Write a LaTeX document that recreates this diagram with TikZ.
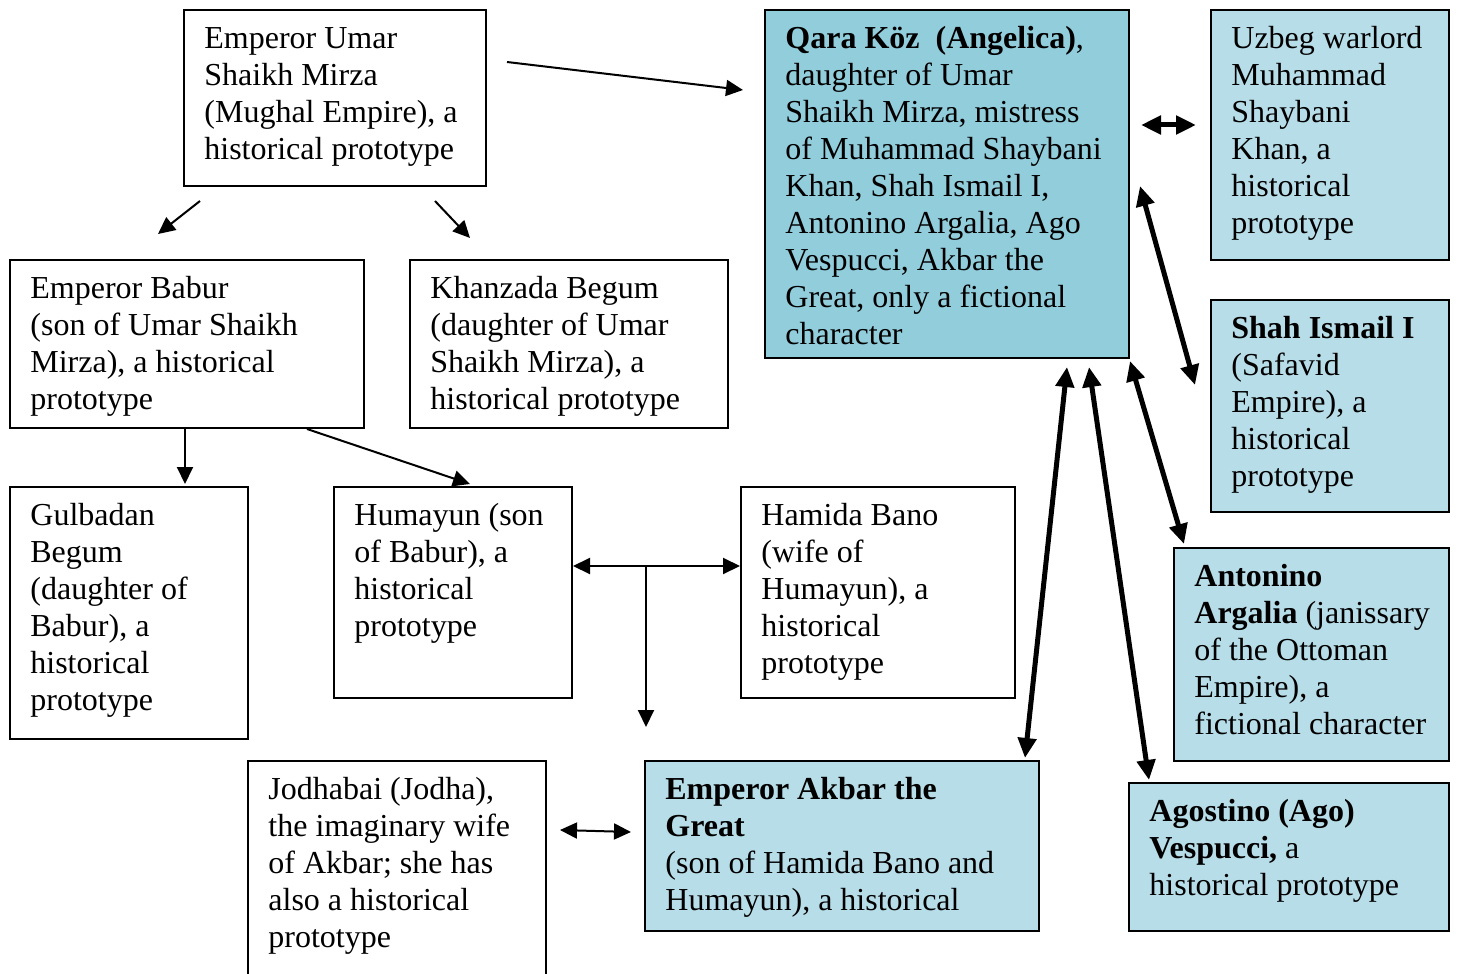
\documentclass[tikz,border=0pt]{standalone}
\usepackage{fontspec}
\setmainfont{Liberation Serif}
\usetikzlibrary{arrows.meta}
\definecolor{qblue}{HTML}{92CDDC}
\definecolor{lblue}{HTML}{B7DDE8}
\tikzset{
  frame/.style={draw=black, line width=1pt, anchor=north west, inner sep=0pt},
  plainbox/.style={frame, fill=white},
  bluebox/.style={frame, fill=lblue},
  darkbox/.style={frame, fill=qblue},
  label/.style={anchor=north west, align=left, inner xsep=10.5pt, inner ysep=6.5pt,
    font=\fontsize{16}{18.5}\selectfont},
  thin/.style={line width=1pt, -{Triangle[length=8.5pt,width=8pt]}},
  thinboth/.style={line width=1pt, {Triangle[length=8.5pt,width=8pt]}-{Triangle[length=8.5pt,width=8pt]}},
  thick/.style={line width=2.5pt, {Triangle[length=10pt,width=9pt]}-{Triangle[length=10pt,width=9pt]}},
}
\begin{document}
\begin{tikzpicture}[x=0.5pt,y=-0.5pt]
\useasboundingbox (0,0) rectangle (1458,974);
\clip (0,0) rectangle (1458,974);
\fill[white] (0,0) rectangle (1458,974);

% boxes
\node[plainbox, minimum width=151pt, minimum height=88pt] (umar) at (183,9) {};
\node[darkbox, minimum width=182pt, minimum height=174pt] (qara) at (764,9) {};
\node[bluebox, minimum width=119pt, minimum height=125pt] (uzbeg) at (1210,9) {};
\node[bluebox, minimum width=119pt, minimum height=106pt] (shah) at (1210,299) {};
\node[bluebox, minimum width=137.5pt, minimum height=106.5pt] (anton) at (1173,547) {};
\node[bluebox, minimum width=160pt, minimum height=74pt] (ago) at (1128,782) {};
\node[plainbox, minimum width=177pt, minimum height=84pt] (babur) at (9,259) {};
\node[plainbox, minimum width=159pt, minimum height=84pt] (khan) at (409,259) {};
\node[plainbox, minimum width=119pt, minimum height=126pt] (gul) at (9,486) {};
\node[plainbox, minimum width=119pt, minimum height=105.5pt] (huma) at (333,486) {};
\node[plainbox, minimum width=137pt, minimum height=105.5pt] (hamida) at (740,486) {};
\node[plainbox, minimum width=149pt, minimum height=125pt] (jodha) at (247,760) {};
\node[bluebox, minimum width=197pt, minimum height=85pt] (akbar) at (644,760) {};

% texts
\node[label] (umarT) at (umar.north west) {\strut Emperor Umar\\Shaikh Mirza\\(Mughal Empire), a\\historical prototype};
\node[label] (qaraT) at (qara.north west) {\strut\textbf{Qara Köz\ \ (Angelica)},\\daughter of Umar\\Shaikh Mirza, mistress\\of Muhammad Shaybani\\Khan, Shah Ismail I,\\Antonino Argalia, Ago\\Vespucci, Akbar the\\Great, only a fictional\\character};
\node[label] (uzbegT) at (uzbeg.north west) {\strut Uzbeg warlord\\Muhammad\\Shaybani\\Khan, a\\historical\\prototype};
\node[label] (shahT) at (shah.north west) {\strut\textbf{Shah Ismail I}\\(Safavid\\Empire), a\\historical\\prototype};
\node[label] (antonT) at (anton.north west) {\strut\textbf{Antonino}\\\textbf{Argalia} (janissary\\of the Ottoman\\Empire), a\\fictional character};
\node[label] (agoT) at (ago.north west) {\strut\textbf{Agostino (Ago)}\\\textbf{Vespucci,} a\\historical prototype};
\node[label] (baburT) at (babur.north west) {\strut Emperor Babur\\(son of Umar Shaikh\\Mirza), a historical\\prototype};
\node[label] (khanT) at (khan.north west) {\strut Khanzada Begum\\(daughter of Umar\\Shaikh Mirza), a\\historical prototype};
\node[label] (gulT) at (gul.north west) {\strut Gulbadan\\Begum\\(daughter of\\Babur), a\\historical\\prototype};
\node[label] (humaT) at (huma.north west) {\strut Humayun (son\\of Babur), a\\historical\\prototype};
\node[label] (hamidaT) at (hamida.north west) {\strut Hamida Bano\\(wife of\\Humayun), a\\historical\\prototype};
\node[label] (jodhaT) at (jodha.north west) {\strut Jodhabai (Jodha),\\the imaginary wife\\of Akbar; she has\\also a historical\\prototype};
\node[label] (akbarT) at (akbar.north west) {\strut\textbf{Emperor Akbar the}\\\textbf{Great}\\(son of Hamida Bano and\\Humayun), a historical};

% thin connectors
\draw[thin] ([shift={(20,53)}]umar.north east) -- ([shift={(-21,81)}]qara.north west);
\draw[thin] ([shift={(17,14)}]umar.south west) -- ([shift={(149,-25)}]babur.north west);
\draw[thin] ([shift={(252,14)}]umar.south west) -- ([shift={(61,-21)}]khan.north west);
\draw[thin] ([shift={(176,0)}]babur.south west) -- ([shift={(176,-2)}]gul.north west);
\draw[thin] ([shift={(298,0)}]babur.south west) -- ([shift={(137,-2)}]huma.north west);
\draw[thinboth] ([shift={(0,80)}]huma.north east) -- ([shift={(0,80)}]hamida.north west);
\coordinate (tj) at ([shift={(73,80)}]huma.north east);
\coordinate (tend) at ([shift={(0,161)}]tj);
\draw[thin] (tj) -- (tend);
\draw[thinboth] ([shift={(13,70)}]jodha.north east) -- ([shift={(-13,72)}]akbar.north west);

% thick connectors
\draw[thick] ([shift={(11,116)}]qara.north east) -- ([shift={(-14,116)}]uzbeg.north west);
\draw[thick] ([shift={(10,177)}]qara.north east) -- ([shift={(-15,86)}]shah.north west);
\draw[thick] ([shift={(0,2)}]qara.south east) -- ([shift={(11,-3)}]anton.north west);
\draw[thick] ([shift={(303,8)}]qara.south west) -- ([shift={(381,-2)}]akbar.north west);
\draw[thick] ([shift={(325,8)}]qara.south west) -- ([shift={(21,-2)}]ago.north west);
\end{tikzpicture}
\end{document}
